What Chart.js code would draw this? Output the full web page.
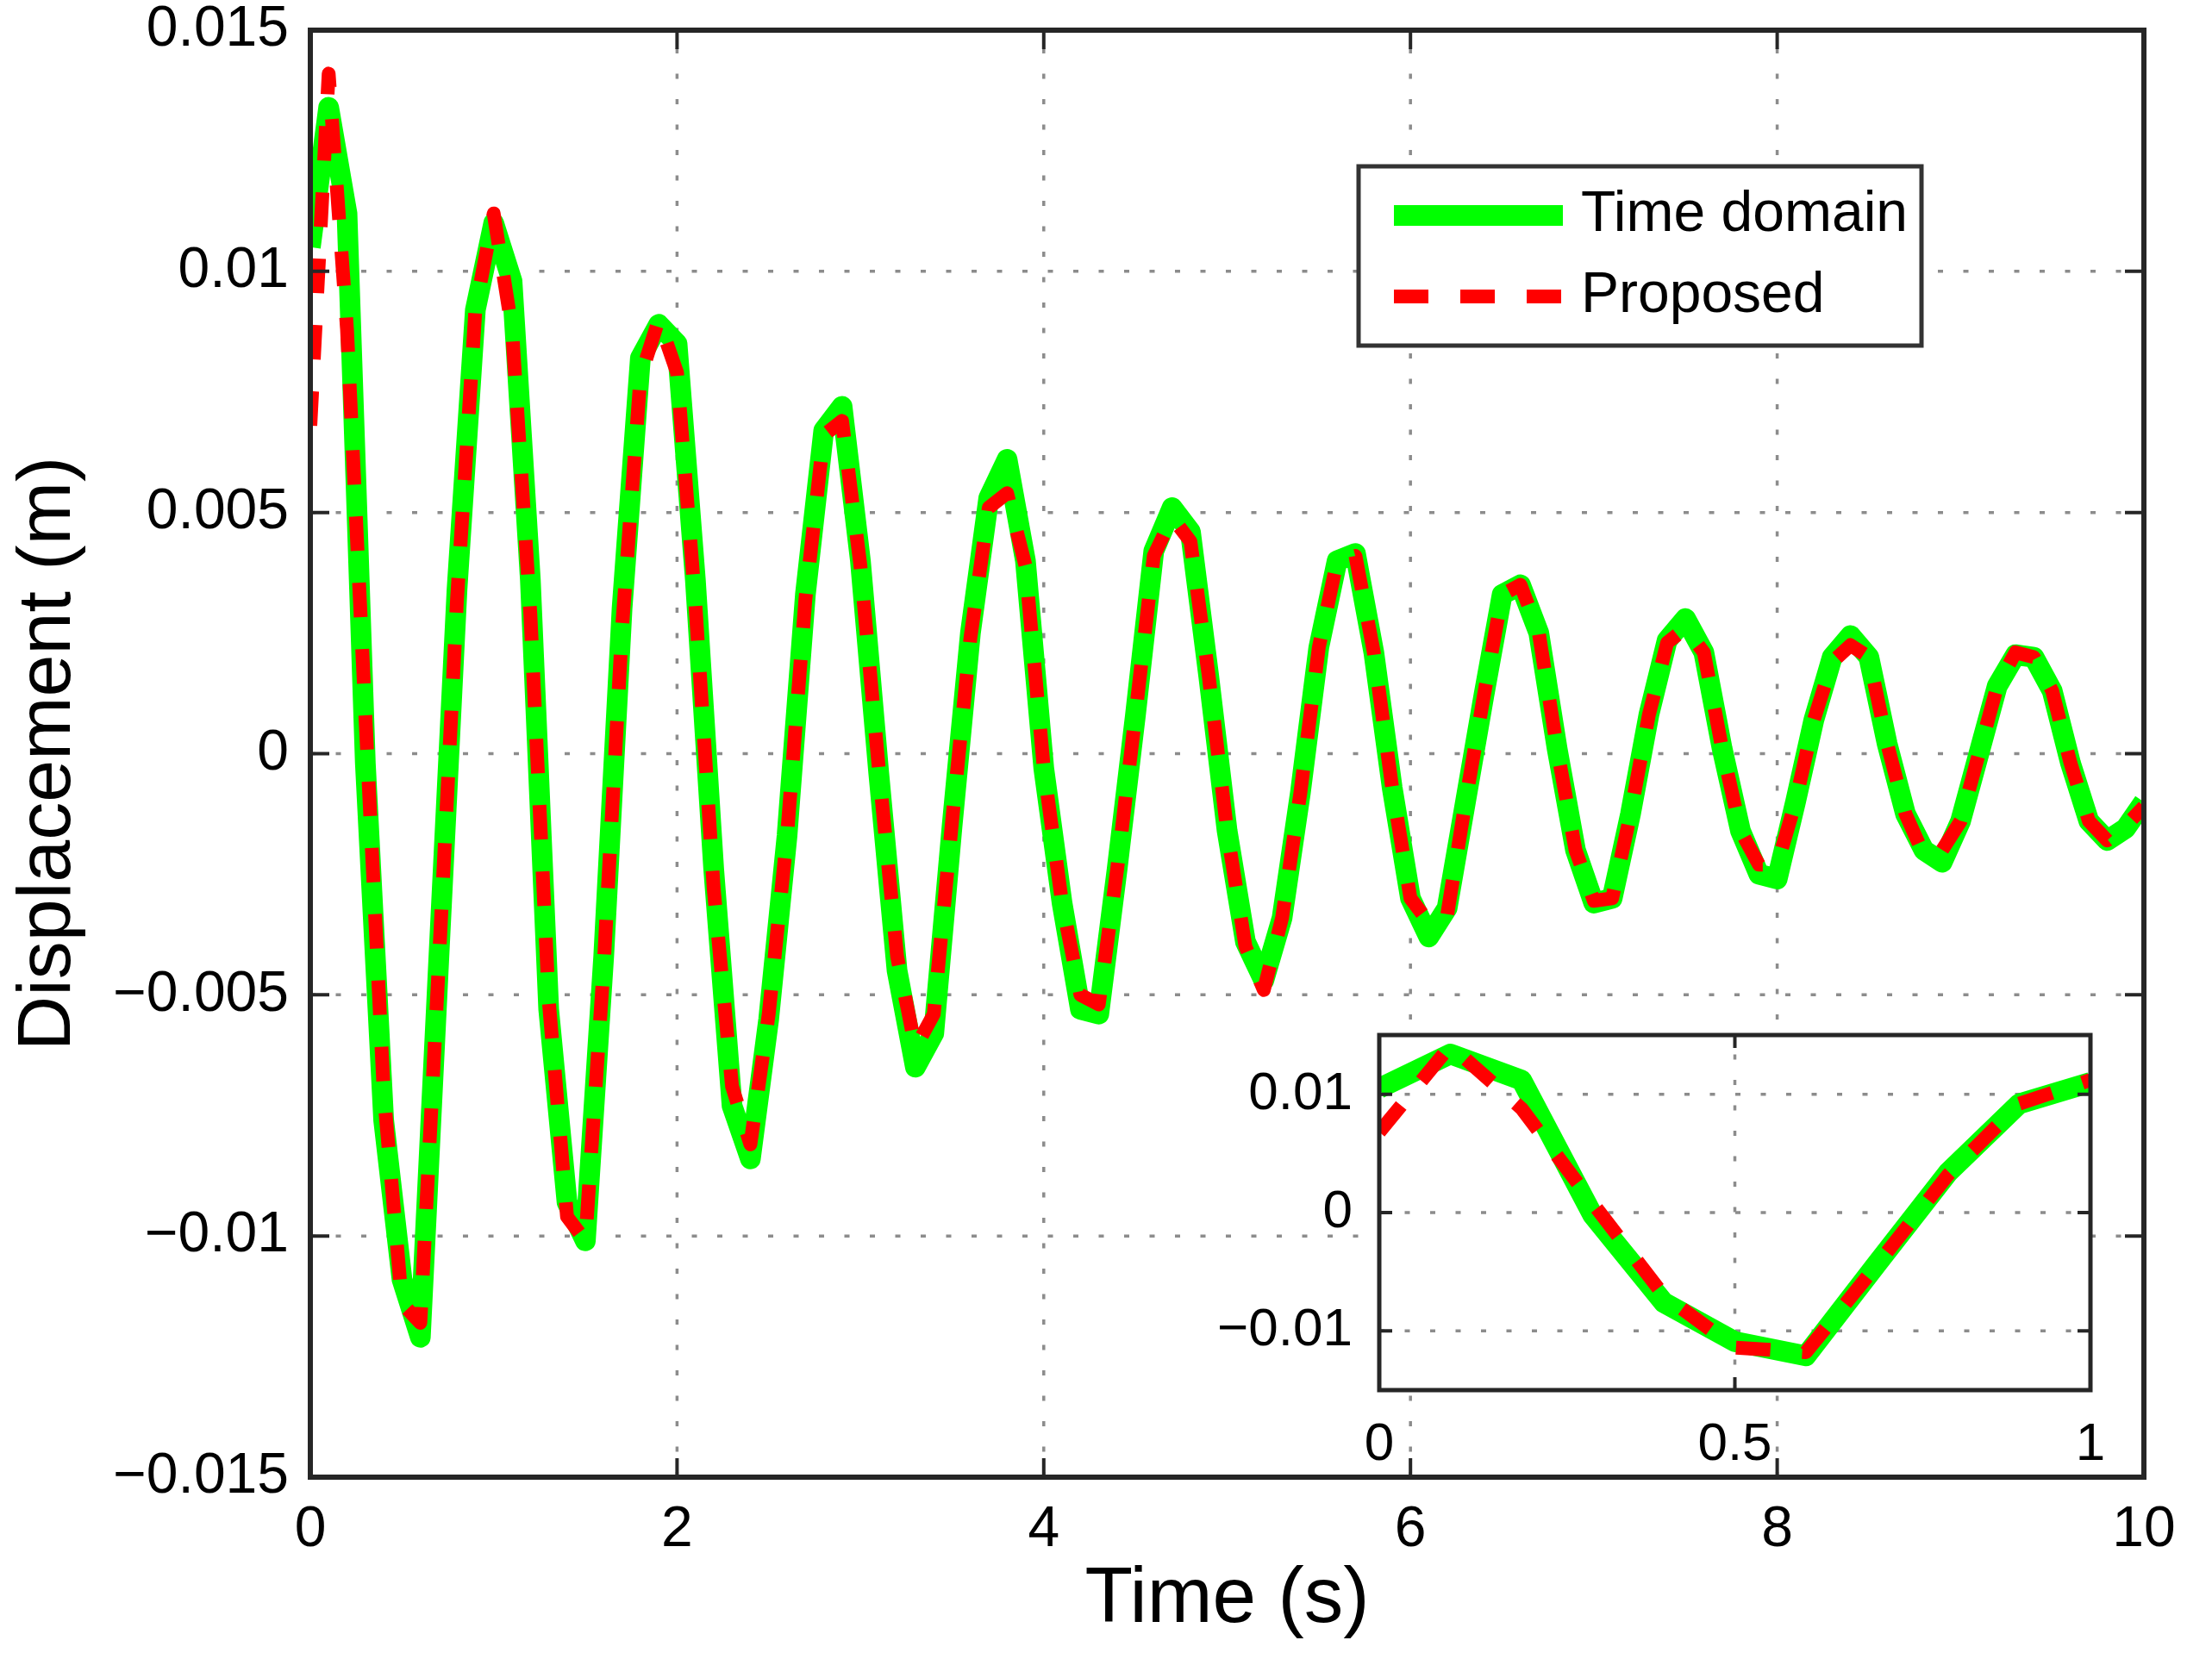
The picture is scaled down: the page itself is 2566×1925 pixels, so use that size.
<!DOCTYPE html>
<html lang="en">
<head>
    <meta charset="UTF-8">
    <title>Displacement response</title>
    <script src="https://cdn.jsdelivr.net/npm/chart.js@4.4.0/dist/chart.umd.min.js"></script>
    <style>
        html, body { margin: 0; padding: 0; background: #fff; overflow: hidden; }
        #main { position: absolute; left: 0; top: 0; width: 2566px; height: 1925px; }
        #inset { position: absolute; left: 1400px; top: 1170px; width: 1050px; height: 560px; }
    </style>
</head>
<body>
    <div id="main"><canvas id="mainChart"></canvas></div>
    <div id="inset"><canvas id="insetChart"></canvas></div>

    <script>
        // time samples (s)
        const timeS = [
            0, 0.1, 0.2, 0.3, 0.4, 0.5, 0.6, 0.7, 0.8, 0.9,
            1, 1.1, 1.2, 1.3, 1.4, 1.5, 1.6, 1.7, 1.8, 1.9,
            2, 2.1, 2.2, 2.3, 2.4, 2.5, 2.6, 2.7, 2.8, 2.9,
            3, 3.1, 3.2, 3.3, 3.4, 3.5, 3.6, 3.7, 3.8, 3.9,
            4, 4.1, 4.2, 4.3, 4.4, 4.5, 4.6, 4.7, 4.8, 4.9,
            5, 5.1, 5.2, 5.3, 5.4, 5.5, 5.6, 5.7, 5.8, 5.9,
            6, 6.1, 6.2, 6.3, 6.4, 6.5, 6.6, 6.7, 6.8, 6.9,
            7, 7.1, 7.2, 7.3, 7.4, 7.5, 7.6, 7.7, 7.8, 7.9,
            8, 8.1, 8.2, 8.3, 8.4, 8.5, 8.6, 8.7, 8.8, 8.9,
            9, 9.1, 9.2, 9.3, 9.4, 9.5, 9.6, 9.7, 9.8, 9.9,
            10
        ];

        // displacement (m), time domain solution
        const timeDomain = [
            0.0105, 0.0134, 0.0112, -0.0002, -0.0076, -0.0109, -0.0121, -0.0043, 0.0034, 0.0092,
            0.0110, 0.0098, 0.0036, -0.0053, -0.0093, -0.0101, -0.0042, 0.0030, 0.0082, 0.0089,
            0.0085, 0.0036, -0.0024, -0.0073, -0.0084, -0.0055, -0.0017, 0.0033, 0.0067, 0.0072,
            0.0040, -0.0004, -0.0045, -0.0065, -0.0058, -0.0015, 0.0025, 0.0053, 0.0061, 0.0040,
            -0.0003, -0.0031, -0.0053, -0.0054, -0.0024, 0.0008, 0.0042, 0.0051, 0.0046, 0.0016,
            -0.0016, -0.0039, -0.0047, -0.0034, -0.0008, 0.0022, 0.0040, 0.00415, 0.0021, -0.0007,
            -0.0030, -0.0038, -0.0032, -0.0010, 0.0012, 0.0033, 0.0035, 0.0025, 0.0001, -0.0020,
            -0.0031, -0.0030, -0.00125, 0.0008, 0.00235, 0.0028, 0.0021, 0.0001, -0.0016, -0.0025,
            -0.0026, -0.0010, 0.0007, 0.0020, 0.00245, 0.0020, 0.0002, -0.00125, -0.0020, -0.00225,
            -0.0014, 0.0000, 0.0014, 0.00205, 0.0020, 0.0013, -0.0002, -0.0014, -0.0018, -0.00155,
            -0.0010
        ];

        // displacement (m), proposed method
        const proposed = [
            0.0068, 0.0141, 0.0088, 0.0008, -0.0070, -0.0114, -0.0118, -0.0044, 0.0032, 0.0092,
            0.0112, 0.0088, 0.0029, -0.0051, -0.0096, -0.0101, -0.0044, 0.0026, 0.0078, 0.0090,
            0.0079, 0.0031, -0.0028, -0.0069, -0.0081, -0.0054, -0.0017, 0.0032, 0.0066, 0.0069,
            0.0039, -0.0003, -0.0042, -0.0061, -0.0054, -0.0014, 0.0024, 0.0051, 0.0054, 0.0039,
            -0.0003, -0.0031, -0.0050, -0.0052, -0.0024, 0.0008, 0.0041, 0.0049, 0.0044, 0.0016,
            -0.0016, -0.0040, -0.0049, -0.0034, -0.0008, 0.0022, 0.0040, 0.0041, 0.0021, -0.0007,
            -0.0030, -0.0035, -0.00335, -0.0010, 0.0012, 0.0033, 0.0035, 0.0025, 0.0001, -0.0020,
            -0.00305, -0.0030, -0.00125, 0.0008, 0.0023, 0.0026, 0.0021, 0.0001, -0.0016, -0.0023,
            -0.0023, -0.0010, 0.0007, 0.0019, 0.00225, 0.0020, 0.0002, -0.00125, -0.0021, -0.0020,
            -0.0014, 0.0000, 0.0014, 0.0021, 0.0020, 0.0013, -0.0002, -0.0014, -0.0018, -0.0015,
            -0.0011
        ];

        // tick values
        const mainXTicks = [0, 2, 4, 6, 8, 10];
        const mainYTicks = [-0.015, -0.01, -0.005, 0, 0.005, 0.01, 0.015];
        const insetXTicks = [0, 0.5, 1];
        const insetYTicks = [-0.01, 0, 0.01];

        const FONT = "'Liberation Sans', Arial, Helvetica, sans-serif";
        Chart.defaults.font.family = FONT;
        Chart.defaults.color = '#000';

        // matlab style numbers: 0.005, 0, −0.01
        function fmt(v) {
            if (Math.abs(v) < 1e-9) return '0';
            const s = String(parseFloat(Math.abs(v).toFixed(4)));
            return (v < 0 ? '\u2212' : '') + s;
        }

        function toPoints(ys) {
            return timeS.map((t, i) => ({ x: t, y: ys[i] }));
        }

        function makeDatasets() {
            return [
                {
                    label: 'Time domain',
                    data: toPoints(timeDomain),
                    borderColor: '#00ff00',
                    borderWidth: 24,
                    borderJoinStyle: 'round',
                    pointRadius: 0,
                    tension: 0,
                    clip: 0,
                    order: 2
                },
                {
                    label: 'Proposed',
                    data: toPoints(proposed),
                    borderColor: '#ff0000',
                    borderWidth: 16,
                    borderDash: [40, 37],
                    borderCapStyle: 'butt',
                    borderJoinStyle: 'round',
                    pointRadius: 0,
                    tension: 0,
                    clip: 0,
                    order: 1
                }
            ];
        }

        // dotted grid under the lines, inward ticks and box on top
        const boxAxes = {
            id: 'boxAxes',
            beforeDatasetsDraw(chart, args, o) {
                const { ctx, chartArea: a } = chart;
                const xs = chart.scales.x, ys = chart.scales.y;
                ctx.save();
                ctx.fillStyle = '#fff';
                ctx.fillRect(a.left, a.top, a.right - a.left, a.bottom - a.top);
                ctx.strokeStyle = o.gridColor;
                ctx.lineWidth = o.gridWidth;
                ctx.setLineDash(o.gridDash);
                ctx.beginPath();
                xs.ticks.forEach(t => {
                    const p = xs.getPixelForValue(t.value);
                    if (p < a.left + 3 || p > a.right - 3) return;
                    ctx.moveTo(p, a.bottom);
                    ctx.lineTo(p, a.top);
                });
                ys.ticks.forEach(t => {
                    const p = ys.getPixelForValue(t.value);
                    if (p < a.top + 3 || p > a.bottom - 3) return;
                    ctx.moveTo(a.left, p);
                    ctx.lineTo(a.right, p);
                });
                ctx.stroke();
                ctx.restore();
            },
            afterDatasetsDraw(chart, args, o) {
                const { ctx, chartArea: a } = chart;
                const xs = chart.scales.x, ys = chart.scales.y;
                ctx.save();
                ctx.strokeStyle = o.boxColor;
                ctx.lineWidth = o.tickWidth;
                ctx.beginPath();
                xs.ticks.forEach(t => {
                    const p = xs.getPixelForValue(t.value);
                    ctx.moveTo(p, a.bottom); ctx.lineTo(p, a.bottom - o.tickLen);
                    ctx.moveTo(p, a.top); ctx.lineTo(p, a.top + o.tickLen);
                });
                ys.ticks.forEach(t => {
                    const p = ys.getPixelForValue(t.value);
                    ctx.moveTo(a.left, p); ctx.lineTo(a.left + o.tickLen, p);
                    ctx.moveTo(a.right, p); ctx.lineTo(a.right - o.tickLen, p);
                });
                ctx.stroke();
                ctx.lineWidth = o.boxWidth;
                ctx.strokeRect(a.left, a.top, a.right - a.left, a.bottom - a.top);
                ctx.restore();
            }
        };

        // boxed legend like matlab's
        const boxLegend = {
            id: 'boxLegend',
            afterDraw(chart, args, o) {
                const { ctx } = chart;
                ctx.save();
                ctx.fillStyle = '#fff';
                ctx.fillRect(o.left, o.top, o.width, o.height);
                ctx.strokeStyle = o.borderColor;
                ctx.lineWidth = o.borderWidth;
                ctx.strokeRect(o.left, o.top, o.width, o.height);
                ctx.font = o.fontSize + 'px ' + FONT;
                ctx.textBaseline = 'middle';
                chart.data.datasets.forEach((d, i) => {
                    const cy = o.top + o.firstRow + i * o.rowGap;
                    ctx.strokeStyle = d.borderColor;
                    ctx.lineWidth = d.borderWidth;
                    ctx.setLineDash(d.borderDash || []);
                    ctx.beginPath();
                    ctx.moveTo(o.left + o.lineStart, cy);
                    ctx.lineTo(o.left + o.lineEnd, cy);
                    ctx.stroke();
                    ctx.setLineDash([]);
                    ctx.fillStyle = '#000';
                    ctx.fillText(d.label, o.left + o.textStart, cy);
                });
                ctx.restore();
            }
        };

        const axesStyle = {
            gridColor: '#8c8c8c', gridWidth: 3.5, gridDash: [6, 23.5],
            boxColor: '#262626', tickWidth: 4
        };

        new Chart(document.getElementById('mainChart'), {
            type: 'line',
            data: { datasets: makeDatasets() },
            options: {
                responsive: true,
                maintainAspectRatio: false,
                devicePixelRatio: 1,
                animation: false,
                events: [],
                layout: { padding: { left: 0, top: 35, right: 79, bottom: 0 } },
                plugins: {
                    legend: { display: false },
                    tooltip: { enabled: false },
                    boxAxes: Object.assign({ tickLen: 22, boxWidth: 6 }, axesStyle),
                    boxLegend: {
                        left: 1576, top: 193, width: 653, height: 208,
                        borderColor: '#333', borderWidth: 5,
                        lineStart: 41, lineEnd: 237, textStart: 258,
                        firstRow: 57, rowGap: 94, fontSize: 66
                    }
                },
                scales: {
                    x: {
                        type: 'linear',
                        min: 0,
                        max: 10,
                        afterBuildTicks: s => { s.ticks = mainXTicks.map(v => ({ value: v })); },
                        afterFit: s => { s.height = 211; s.paddingLeft = 0; s.paddingRight = 0; },
                        grid: { display: false },
                        border: { display: false },
                        ticks: {
                            font: { size: 66 }, color: '#000', padding: 14,
                            maxRotation: 0, autoSkip: false,
                            callback: v => fmt(v)
                        },
                        title: {
                            display: true, text: 'Time (s)', color: '#000',
                            font: { size: 91, lineHeight: 1 },
                            padding: { top: 0, bottom: 23 }
                        }
                    },
                    y: {
                        type: 'linear',
                        min: -0.015,
                        max: 0.015,
                        afterBuildTicks: s => { s.ticks = mainYTicks.map(v => ({ value: v })); },
                        afterFit: s => { s.width = 360; s.paddingTop = 0; s.paddingBottom = 0; },
                        grid: { display: false },
                        border: { display: false },
                        ticks: {
                            font: { size: 66 }, color: '#000', padding: 17,
                            autoSkip: false,
                            callback: v => fmt(v)
                        },
                        title: {
                            display: true, text: 'Displacement (m)', color: '#000',
                            font: { size: 88, lineHeight: 1 },
                            padding: { top: 13, bottom: 0 }
                        }
                    }
                }
            },
            plugins: [boxAxes, boxLegend]
        });

        // zoomed view of the first second
        new Chart(document.getElementById('insetChart'), {
            type: 'line',
            data: { datasets: makeDatasets() },
            options: {
                responsive: true,
                maintainAspectRatio: false,
                devicePixelRatio: 1,
                animation: false,
                events: [],
                layout: { padding: { left: 0, top: 31, right: 25, bottom: 0 } },
                plugins: {
                    legend: { display: false },
                    tooltip: { enabled: false },
                    boxAxes: Object.assign({ tickLen: 15, boxWidth: 5 }, axesStyle)
                },
                scales: {
                    x: {
                        type: 'linear',
                        min: 0,
                        max: 1,
                        afterBuildTicks: s => { s.ticks = insetXTicks.map(v => ({ value: v })); },
                        afterFit: s => { s.height = 117; s.paddingLeft = 0; s.paddingRight = 0; },
                        grid: { display: false },
                        border: { display: false },
                        ticks: {
                            font: { size: 62 }, color: '#000', padding: 19,
                            maxRotation: 0, autoSkip: false,
                            callback: v => fmt(v)
                        }
                    },
                    y: {
                        type: 'linear',
                        min: -0.015,
                        max: 0.015,
                        afterBuildTicks: s => { s.ticks = insetYTicks.map(v => ({ value: v })); },
                        afterFit: s => { s.width = 200; s.paddingTop = 0; s.paddingBottom = 0; },
                        grid: { display: false },
                        border: { display: false },
                        ticks: {
                            font: { size: 62 }, color: '#000', padding: 23,
                            autoSkip: false,
                            callback: v => fmt(v)
                        }
                    }
                }
            },
            plugins: [boxAxes]
        });
    </script>
</body>
</html>
